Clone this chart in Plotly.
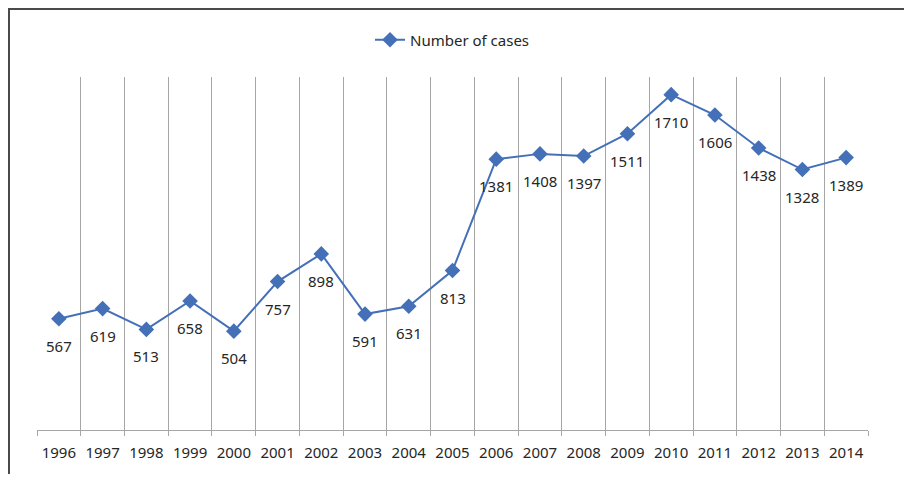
import plotly.graph_objects as go

years = [str(y) for y in range(1996, 2015)]
cases = [567, 619, 513, 658, 504, 757, 898, 591, 631, 813,
         1381, 1408, 1397, 1511, 1710, 1606, 1438, 1328, 1389]

# the page body adds an 8px margin, so the figure is 16px smaller than the window
W, H = 896, 466
ML, MR, MT, MB = 29, 36, 69, 44
PW, PH = W - ML - MR, H - MT - MB

BLUE = "#4470B8"
GRID = "#A6A6A6"
TEXT = "#262626"
FONT = "Noto Sans, Open Sans, sans-serif"
FS = 15

fig = go.Figure()
fig.add_trace(go.Scatter(
    x=years, y=cases, mode="lines+markers", name="Number of cases",
    line=dict(color=BLUE, width=2),
    marker=dict(symbol="diamond", size=12, color=BLUE),
))

# data labels below each point (category index as x)
for i, v in enumerate(cases):
    fig.add_annotation(x=i, y=v, xref="x", yref="y", text=str(v), showarrow=False,
                       yshift=-27, font=dict(size=FS, color=TEXT, family=FONT))


def px_x(p):
    return (p - ML) / PW


def px_y(p):
    return 1 + (MT - p) / PH


# outer frame: only left and top edges are visible in the source
fig.add_shape(type="rect", xref="paper", yref="paper",
              x0=px_x(1), x1=px_x(W + 20), y0=px_y(1), y1=px_y(H + 20),
              line=dict(color="#4a4a4a", width=2), fillcolor="rgba(0,0,0,0)",
              layer="below")

fig.update_xaxes(
    type="category", tickson="boundaries", range=[-0.5, 18.5],
    showgrid=True, gridcolor=GRID, gridwidth=1,
    showline=True, linecolor=GRID, linewidth=1,
    ticks="outside", ticklen=5, tickcolor=GRID, tickangle=0,
    ticklabelstandoff=9,
    tickfont=dict(size=FS, color=TEXT, family=FONT),
)
fig.update_yaxes(range=[0, 1800], visible=False, showgrid=False)

fig.update_layout(
    width=W, height=H,
    margin=dict(l=ML, r=MR, t=MT, b=MB),
    paper_bgcolor="white", plot_bgcolor="white",
    showlegend=True,
    legend=dict(orientation="h", x=0.5, xanchor="center", y=px_y(32), yanchor="middle",
                font=dict(size=FS, color=TEXT, family=FONT)),
)

fig.write_html("out.html")
